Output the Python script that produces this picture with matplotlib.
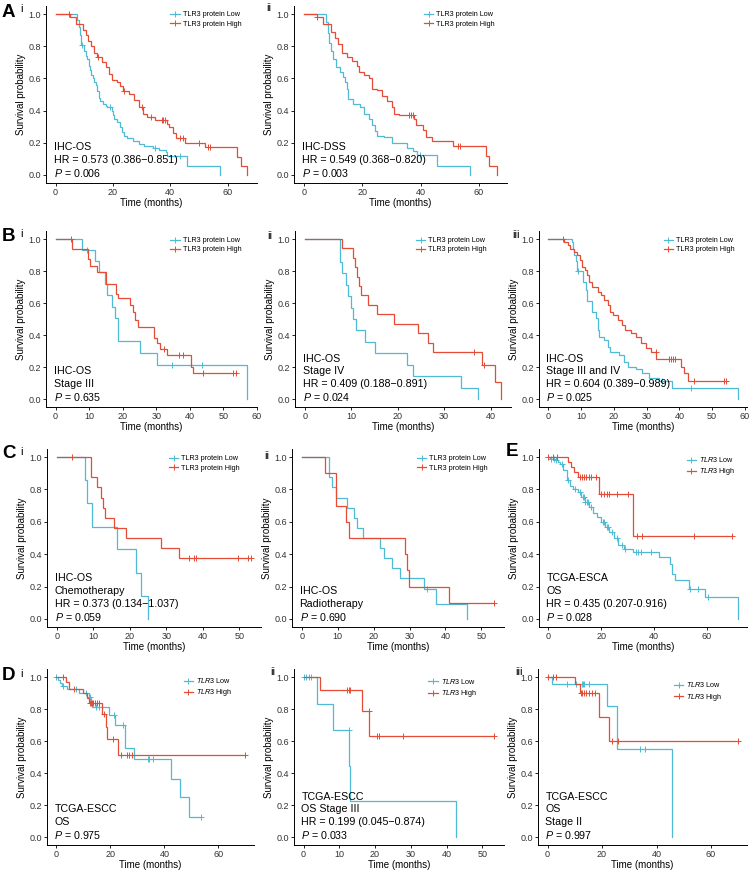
import numpy as np
import matplotlib
matplotlib.use("Agg")
import matplotlib.pyplot as plt
from matplotlib.lines import Line2D

plt.rcParams['font.family'] = ['Liberation Sans', 'DejaVu Sans']
plt.rcParams['mathtext.fontset'] = 'custom'
plt.rcParams['mathtext.rm'] = 'Liberation Sans'
plt.rcParams['mathtext.it'] = 'Liberation Sans:italic'
plt.rcParams['mathtext.bf'] = 'Liberation Sans:bold'

LOW_COL = '#4DBBD5'
HIGH_COL = '#E64B35'
W, H = 753, 871

# ---- A i: IHC-OS ----
ai_low_t = [0, 7.5, 8.0, 8.5, 9.0, 10.0, 10.5, 11.0, 11.5, 12.0, 12.5, 13.0, 13.5, 14.0, 14.5, 15.0, 15.5, 16.5,
            17.5, 18.0, 19.5, 20.0, 20.5, 21.5, 22.5, 23.0, 24.0, 25.0, 27.0, 29.0, 31.0, 34.0, 36.0, 38.5, 39.0,
            46.0, 57.3]
ai_low_s = [1.0, 0.96, 0.92, 0.87, 0.81, 0.77, 0.74, 0.72, 0.68, 0.65, 0.62, 0.60, 0.58, 0.56, 0.52, 0.48, 0.46,
            0.44, 0.43, 0.42, 0.40, 0.37, 0.35, 0.33, 0.30, 0.27, 0.24, 0.23, 0.21, 0.19, 0.18, 0.17, 0.155, 0.14,
            0.12, 0.056, 0.0]
ai_low_c = [9.3, 18.9, 34.8, 43.3]
ai_high_t = [0, 4.9, 7.0, 9.5, 10.5, 11.3, 12.3, 13.5, 14.5, 16.3, 17.5, 18.8, 19.8, 21.5, 22.5, 23.5, 25.5, 27.3,
             29.0, 30.5, 32.0, 34.5, 38.7, 39.5, 40.8, 42.0, 45.0, 52.0, 63.1, 64.5, 66.9]
ai_high_s = [1.0, 0.98, 0.94, 0.90, 0.87, 0.83, 0.80, 0.76, 0.73, 0.70, 0.67, 0.63, 0.59, 0.58, 0.55, 0.52, 0.50,
             0.465, 0.42, 0.38, 0.36, 0.34, 0.315, 0.30, 0.26, 0.23, 0.20, 0.175, 0.11, 0.056, 0.0]
ai_high_c = [4.7, 14.8, 23.8, 30.0, 33.4, 37.0, 37.6, 38.2, 43.3, 44.3, 50.0, 53.3, 53.8]

# ---- A ii: IHC-DSS ----
aii_low_t = [0, 7.6, 8.2, 8.8, 9.4, 10.1, 11.2, 12.4, 13.3, 14.2, 14.8, 15.3, 17.0, 19.3, 20.5, 22.2, 23.3, 24.4,
             25.1, 27.4, 30.3, 35.5, 37.3, 38.9, 45.6, 56.8]
aii_low_s = [1.0, 0.95, 0.88, 0.82, 0.77, 0.72, 0.67, 0.64, 0.61, 0.58, 0.535, 0.47, 0.44, 0.42, 0.38, 0.35, 0.31,
             0.275, 0.245, 0.235, 0.197, 0.17, 0.15, 0.127, 0.058, 0.0]
aii_low_c = [39.8]
aii_high_t = [0, 4.4, 6.7, 9.2, 10.7, 11.8, 13.0, 14.7, 16.5, 18.2, 18.8, 20.5, 22.2, 23.3, 25.1, 26.8, 28.6, 30.3,
              30.9, 32.6, 37.8, 38.6, 40.7, 41.9, 44.1, 51.0, 62.5, 63.6, 66.3]
aii_high_s = [1.0, 0.98, 0.94, 0.89, 0.85, 0.815, 0.76, 0.73, 0.71, 0.68, 0.64, 0.62, 0.60, 0.535, 0.525, 0.49,
              0.46, 0.42, 0.38, 0.37, 0.35, 0.31, 0.28, 0.235, 0.214, 0.183, 0.12, 0.058, 0.0]
aii_high_c = [4.6, 36.0, 36.8, 37.4, 52.7, 53.5]

# ---- B i: Stage III ----
bi_low_t = [0, 7.9, 11.7, 13.0, 14.7, 15.3, 16.9, 17.6, 18.6, 25.1, 30.3, 57.2]
bi_low_s = [1.0, 0.934, 0.863, 0.795, 0.72, 0.65, 0.577, 0.504, 0.36, 0.286, 0.214, 0.0]
bi_low_c = [9.4, 34.8, 43.6]
bi_high_t = [0, 4.9, 9.7, 10.4, 12.2, 15.0, 17.9, 18.6, 22.1, 23.1, 23.6, 24.6, 29.3, 30.1, 31.1, 33.1, 40.3, 41.1]
bi_high_s = [1.0, 0.94, 0.873, 0.83, 0.795, 0.72, 0.656, 0.63, 0.587, 0.546, 0.494, 0.452, 0.384, 0.349, 0.313,
             0.276, 0.203, 0.16]
bi_high_c = [4.5, 32.4, 36.9, 37.9, 44.1, 53.0, 53.8]

# ---- B ii: Stage IV ----
bii_low_t = [0, 7.6, 8.0, 8.8, 9.3, 9.9, 10.4, 11.0, 13.0, 15.1, 22.0, 23.2, 33.6, 37.4]
bii_low_s = [1.0, 0.857, 0.786, 0.714, 0.643, 0.571, 0.50, 0.429, 0.357, 0.286, 0.214, 0.143, 0.071, 0.0]
bii_low_c = []
bii_high_t = [0, 8.0, 10.3, 10.8, 11.2, 11.7, 12.1, 13.6, 15.6, 19.3, 24.4, 26.6, 27.7, 38.2, 41.0, 42.3]
bii_high_s = [1.0, 0.941, 0.882, 0.824, 0.765, 0.706, 0.647, 0.588, 0.529, 0.471, 0.412, 0.353, 0.294, 0.214,
              0.107, 0.0]
bii_high_c = [36.4, 38.6]

# ---- B iii: Stage III and IV ----
biii_low_t = [0, 7.1, 7.4, 7.8, 8.3, 8.8, 10.6, 11.4, 11.8, 13.4, 14.4, 15.1, 15.6, 17.1, 18.2, 18.7, 21.7, 23.2,
              24.2, 26.7, 28.7, 30.8, 33.8, 37.8, 57.8]
biii_low_s = [1.0, 0.98, 0.94, 0.90, 0.86, 0.80, 0.73, 0.68, 0.61, 0.545, 0.504, 0.43, 0.39, 0.37, 0.328, 0.293,
              0.276, 0.234, 0.203, 0.189, 0.162, 0.131, 0.11, 0.068, 0.0]
biii_low_c = [9.1, 34.8, 43.7]
biii_high_t = [0, 4.8, 6.0, 6.5, 7.8, 8.8, 9.6, 10.4, 11.1, 11.8, 12.4, 13.4, 15.1, 16.1, 17.1, 18.2, 18.7, 19.7,
               21.2, 22.5, 23.5, 25.2, 26.7, 28.2, 29.7, 31.3, 33.0, 40.6, 41.3, 42.7]
biii_high_s = [1.0, 0.98, 0.965, 0.94, 0.92, 0.90, 0.87, 0.826, 0.805, 0.774, 0.732, 0.70, 0.67, 0.65, 0.618,
               0.587, 0.545, 0.525, 0.494, 0.463, 0.43, 0.41, 0.39, 0.349, 0.317, 0.293, 0.25, 0.203, 0.162, 0.114]
biii_high_c = [4.3, 32.8, 36.8, 37.6, 38.2, 38.8, 44.4, 53.7, 54.2]

# ---- C i: Chemotherapy ----
ci_low_t = [0, 7.7, 8.4, 9.7, 16.5, 21.7, 23.2, 24.9]
ci_low_s = [1.0, 0.857, 0.714, 0.571, 0.429, 0.286, 0.143, 0.0]
ci_low_c = []
ci_high_t = [0, 9.4, 11.0, 12.1, 12.8, 13.3, 15.8, 18.9, 28.6, 33.5]
ci_high_s = [1.0, 0.875, 0.813, 0.75, 0.688, 0.625, 0.563, 0.50, 0.438, 0.375]
ci_high_c = [4.3, 36.2, 37.7, 38.1, 49.7, 52.5, 53.3]

# ---- C ii: Radiotherapy ----
cii_low_t = [0, 7.7, 8.4, 9.6, 12.6, 14.7, 15.4, 17.1, 21.8, 22.9, 25.2, 27.4, 33.9, 37.4, 46.1]
cii_low_s = [1.0, 0.875, 0.8125, 0.75, 0.6875, 0.625, 0.5625, 0.50, 0.4375, 0.375, 0.3125, 0.25, 0.1875, 0.094, 0.0]
cii_low_c = [34.9]
cii_high_t = [0, 6.5, 9.6, 12.3, 13.1, 28.7, 29.4, 29.9, 41.1]
cii_high_s = [1.0, 0.90, 0.70, 0.60, 0.50, 0.40, 0.30, 0.20, 0.10]
cii_high_c = [53.6]

# ---- E: TCGA-ESCA ----
e_low_t = [0, 0.6, 2.5, 3.7, 4.4, 5.6, 6.9, 8.1, 9.4, 11.3, 12.5, 13.7, 15.4, 16.9, 18.4, 20.0, 21.6, 23.1, 25.0,
           26.2, 28.7, 31.9, 41.9, 46.2, 46.9, 48.1, 53.1, 59.4, 71.6]
e_low_s = [1.0, 0.99, 0.98, 0.97, 0.96, 0.92, 0.86, 0.82, 0.80, 0.787, 0.756, 0.725, 0.694, 0.652, 0.627, 0.60,
           0.57, 0.538, 0.497, 0.455, 0.435, 0.414, 0.383, 0.34, 0.28, 0.238, 0.186, 0.135, 0.0]
e_low_c = [1.0, 2.0, 3.0, 5.0, 7.5, 10.0, 12.0, 13.0, 13.5, 14.0, 14.5, 15.0, 16.0, 20.5, 21.0, 22.0, 22.5, 24.0,
           26.0, 28.0, 29.0, 33.0, 34.0, 35.0, 39.0, 53.5, 56.5, 60.5]
e_high_t = [0, 7.5, 8.5, 9.6, 11.3, 19.1, 31.9]
e_high_s = [1.0, 0.967, 0.94, 0.91, 0.88, 0.772, 0.513]
e_high_c = [0.0, 1.6, 3.1, 12.0, 12.6, 13.3, 14.2, 15.2, 16.1, 17.9, 20.0, 20.9, 22.0, 23.0, 25.8, 30.0, 33.4,
            35.4, 55.0, 69.6]

# ---- D i: TCGA-ESCC OS ----
di_low_t = [0, 0.6, 1.2, 2.2, 4.0, 8.5, 12.1, 12.8, 13.3, 19.4, 21.8, 25.5, 28.8, 42.4, 45.8, 49.1]
di_low_s = [1.0, 0.983, 0.963, 0.942, 0.924, 0.897, 0.876, 0.845, 0.814, 0.763, 0.70, 0.557, 0.489, 0.365, 0.247,
            0.124]
di_low_c = [0.0, 2.5, 7.3, 11.0, 12.3, 14.5, 15.8, 21.4, 24.7, 34.0, 34.4, 35.8, 53.6]
di_high_t = [0, 3.4, 4.6, 10.0, 11.5, 12.0, 17.0, 18.4, 18.8, 22.8]
di_high_s = [1.0, 0.97, 0.924, 0.897, 0.866, 0.835, 0.767, 0.69, 0.612, 0.512]
di_high_c = [2.4, 6.6, 12.4, 12.8, 13.2, 13.6, 14.2, 15.0, 15.8, 17.6, 20.8, 24.0, 26.0, 26.9, 27.9, 69.7]

# ---- D ii: OS Stage III ----
dii_low_t = [0, 3.8, 8.2, 12.8, 13.1, 42.6]
dii_low_s = [1.0, 0.833, 0.667, 0.444, 0.222, 0.0]
dii_low_c = [0.0, 0.7, 1.5, 2.1, 12.6]
dii_high_t = [0, 4.6, 16.3, 18.4]
dii_high_s = [1.0, 0.917, 0.786, 0.629]
dii_high_c = [12.2, 12.6, 13.1, 18.2, 20.5, 21.0, 27.7, 53.4]

# ---- D iii: OS Stage II ----
diii_low_t = [0, 1.5, 21.8, 25.5, 45.5]
diii_low_s = [1.0, 0.958, 0.821, 0.547, 0.0]
diii_low_c = [7.3, 10.5, 12.5, 12.9, 13.3, 15.4, 33.9, 35.8]
diii_high_t = [0, 10.1, 11.8, 19.0, 22.4]
diii_high_s = [1.0, 0.958, 0.90, 0.75, 0.60]
diii_high_c = [0.0, 2.2, 3.0, 12.2, 12.8, 13.4, 14.2, 15.2, 16.4, 17.6, 23.6, 25.8, 69.7]

IHC_LABELS = ['TLR3 protein Low', 'TLR3 protein High']
TCGA_LABELS = [r'$\mathit{TLR3}$ Low', r'$\mathit{TLR3}$ High']

fig = plt.figure(figsize=(W / 100, H / 100), dpi=100)


def km_line(ax, t, s, cens, color):
    t = list(t)
    s = list(s)
    if cens and max(cens) > t[-1]:
        t.append(max(cens))
        s.append(s[-1])
    ax.step(t, s, where='post', color=color, lw=0.9, solid_joinstyle='miter')
    if cens:
        idx = np.searchsorted(t, cens, side='right') - 1
        ax.plot(cens, np.array(s)[idx], ls='none', marker='+', ms=4, mew=0.7, color=color)


def panel(rect, low, high, xstep, notes, labels, leg_xy):
    l, r, top, bot = rect
    ax = fig.add_axes([l / W, 1 - bot / H, (r - l) / W, (bot - top) / H])
    km_line(ax, *low, LOW_COL)
    km_line(ax, *high, HIGH_COL)
    xmax = max(low[0] + high[0] + low[2] + high[2])
    ax.set_xlim(-0.05 * xmax, 1.05 * xmax)
    ax.set_ylim(-0.05, 1.05)
    ax.set_xticks(np.arange(0, xmax * 1.05 + 0.01, xstep))
    ax.set_yticks([0, 0.2, 0.4, 0.6, 0.8, 1.0])
    ax.set_yticklabels(['0.0', '0.2', '0.4', '0.6', '0.8', '1.0'])
    for sp in ['top', 'right']:
        ax.spines[sp].set_visible(False)
    for sp in ['left', 'bottom']:
        ax.spines[sp].set_linewidth(0.7)
    ax.tick_params(length=2, width=0.6, pad=1.5, labelsize=6.5, labelcolor='#333333')
    ax.set_xlabel('Time (months)', fontsize=7, labelpad=0.8)
    ax.set_ylabel('Survival probability', fontsize=7, labelpad=2)
    for k, line in enumerate(reversed(notes)):
        ax.annotate(line, xy=(0, 0), xycoords='data', xytext=(-1.5, 1.5 + k * 9.2),
                    textcoords='offset points', ha='left', va='center', fontsize=7.7)
    handles = [Line2D([], [], color=LOW_COL, marker='+', ms=4, mew=0.7, lw=0.9),
               Line2D([], [], color=HIGH_COL, marker='+', ms=4, mew=0.7, lw=0.9)]
    ax.legend(handles, labels, loc='upper left', bbox_to_anchor=leg_xy, frameon=False, fontsize=5.2,
              handlelength=1.3, handletextpad=0.4, labelspacing=0.3, borderpad=0, borderaxespad=0)
    return ax


panel((46, 257, 6, 183), (ai_low_t, ai_low_s, ai_low_c), (ai_high_t, ai_high_s, ai_high_c), 20,
      ['IHC-OS', 'HR = 0.573 (0.386\u22120.851)', '$P$ = 0.006'], IHC_LABELS, (0.59, 0.97))
panel((294, 507, 6, 183), (aii_low_t, aii_low_s, aii_low_c), (aii_high_t, aii_high_s, aii_high_c), 20,
      ['IHC-DSS', 'HR = 0.549 (0.368\u22120.820)', '$P$ = 0.003'], IHC_LABELS, (0.61, 0.97))
panel((46, 257, 231, 407), (bi_low_t, bi_low_s, bi_low_c), (bi_high_t, bi_high_s, bi_high_c), 10,
      ['IHC-OS', 'Stage III', '$P$ = 0.635'], IHC_LABELS, (0.59, 0.965))
panel((295, 511, 231, 407), (bii_low_t, bii_low_s, bii_low_c), (bii_high_t, bii_high_s, bii_high_c), 10,
      ['IHC-OS', 'Stage IV', 'HR = 0.409 (0.188\u22120.891)', '$P$ = 0.024'], IHC_LABELS, (0.56, 0.965))
panel((539, 747, 231, 407), (biii_low_t, biii_low_s, biii_low_c), (biii_high_t, biii_high_s, biii_high_c), 10,
      ['IHC-OS', 'Stage III and IV', 'HR = 0.604 (0.389\u22120.989)', '$P$ = 0.025'], IHC_LABELS, (0.60, 0.965))
panel((47, 261, 449, 627), (ci_low_t, ci_low_s, ci_low_c), (ci_high_t, ci_high_s, ci_high_c), 10,
      ['IHC-OS', 'Chemotherapy', 'HR = 0.373 (0.134\u22121.037)', '$P$ = 0.059'], IHC_LABELS, (0.57, 0.965))
panel((292, 504, 449, 627), (cii_low_t, cii_low_s, cii_low_c), (cii_high_t, cii_high_s, cii_high_c), 10,
      ['IHC-OS', 'Radiotherapy', '$P$ = 0.690'], IHC_LABELS, (0.59, 0.965))
panel((539, 747, 449, 627), (e_low_t, e_low_s, e_low_c), (e_high_t, e_high_s, e_high_c), 20,
      ['TCGA-ESCA', 'OS', 'HR = 0.435 (0.207-0.916)', '$P$ = 0.028'], TCGA_LABELS, (0.71, 0.965))
panel((47, 254, 669, 845), (di_low_t, di_low_s, di_low_c), (di_high_t, di_high_s, di_high_c), 20,
      ['TCGA-ESCC', 'OS', '$P$ = 0.975'], TCGA_LABELS, (0.66, 0.96))
panel((294, 504, 669, 845), (dii_low_t, dii_low_s, dii_low_c), (dii_high_t, dii_high_s, dii_high_c), 10,
      ['TCGA-ESCC', 'OS Stage III', 'HR = 0.199 (0.045\u22120.874)', '$P$ = 0.033'], TCGA_LABELS, (0.64, 0.955))
panel((538, 747, 669, 845), (diii_low_t, diii_low_s, diii_low_c), (diii_high_t, diii_high_s, diii_high_c), 20,
      ['TCGA-ESCC', 'OS', 'Stage II', '$P$ = 0.997'], TCGA_LABELS, (0.65, 0.935))

# panel letters and sub-panel numerals
letters = [('A', 2, 4), ('B', 2, 228), ('C', 2, 445), ('D', 2, 667), ('E', 506, 443)]
numerals = [('i', 20, 4), ('ii', 266, 3), ('i', 20, 229), ('ii', 267, 231), ('iii', 512, 230),
            ('i', 20, 447), ('ii', 264, 451), ('i', 20, 669), ('ii', 270, 667), ('iii', 515, 667)]
for txt, x, y in letters:
    fig.text(x / W, 1 - y / H, txt, fontsize=13.5, fontweight='bold', ha='left', va='top')
for txt, x, y in numerals:
    fig.text(x / W, 1 - y / H, txt, fontsize=8, ha='left', va='top')

fig.savefig('out.png', dpi=100, facecolor='white')
